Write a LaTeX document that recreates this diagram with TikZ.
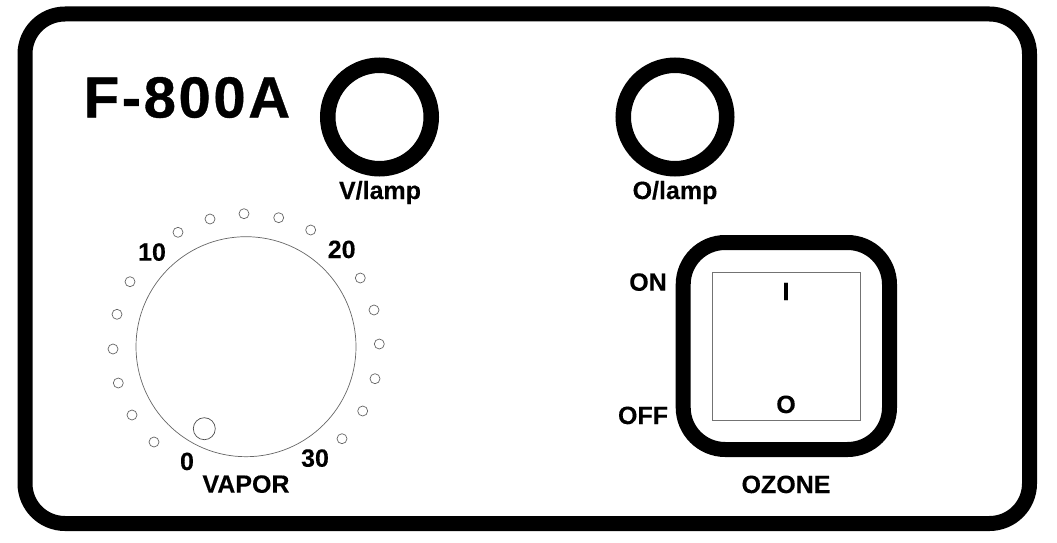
\documentclass[tikz,border=0pt]{standalone}
\usepackage{fontspec}
\setmainfont{Liberation Sans}
\newfontfamily\titlefont[LetterSpace=4.5,FakeBold=0.6]{Liberation Sans}
\newfontfamily\legendfont[FakeBold=0.25]{Liberation Sans}
\tikzset{
 lamp/.style={circle,draw,line width=15.5pt,minimum size=103.5pt,inner sep=0pt},
 hole/.style={circle,draw=black!60,line width=0.7pt,minimum size=10pt,inner sep=0pt},
 legend/.style={anchor=base,inner sep=0pt,font=\legendfont\fontsize{25}{25}\selectfont\bfseries}
}
\begin{document}
\begin{tikzpicture}[x=1pt,y=-1pt]
\useasboundingbox (0,0) rectangle (1057,543);
\draw [line width=15pt,rounded corners=40pt] (25,14) rectangle (1029.5,523.5);
\node [anchor=base,inner sep=0pt,font=\titlefont\fontsize{58}{58}\selectfont\bfseries] (model) at (187,117.5) {F-800A};
\node [lamp] (vlamp) at (379.5,117) {};
\node [lamp] (olamp) at (675,117) {};
\node [legend] (vtext) at (380,199) {V/lamp};
\node [legend] (otext) at (675,199) {O/lamp};
\node [circle,draw=black!60,line width=0.7pt,minimum size=220pt,inner sep=0pt] (dial) at (246,346.7) {};
\node [circle,draw=black!70,line width=0.7pt,minimum size=22pt,inner sep=0pt] (knob) at (204.3,428.7) {};
\foreach \px/\py [count=\i] in {154/442,132/415,118.3/383,113/349,117/314.3,130/281.7,178/232.3,210/219,244/213.7,278.7/217.7,310.7/230,360.3/278,374/310,379.3/344,375/378.7,362.7/411,342/438.7}
 \node [hole] (hole\i) at (\px,\py) {};
\node [legend] (mark0) at (187,470) {0};
\node [legend] (mark10) at (152,260.7) {10};
\node [legend] (mark20) at (341.7,258) {20};
\node [legend] (mark30) at (315,466.7) {30};
\node [legend] (vapor) at (246,492.7) {VAPOR};
\draw [line width=15pt,rounded corners=42pt] (683.2,242.5) rectangle (889.5,449.5);
\node [rectangle,draw=black!55,line width=0.8pt,minimum width=147.7pt,minimum height=148pt,inner sep=0pt] (rocker) at (786.2,346.3) {};
\node [legend] (on) at (648,290.7) {ON};
\node [legend] (off) at (643,424) {OFF};
\node [legend] (onmark) at (786,300) {I};
\node [legend] (offmark) at (786,413) {O};
\node [legend] (ozone) at (786,493) {OZONE};
\end{tikzpicture}
\end{document}
